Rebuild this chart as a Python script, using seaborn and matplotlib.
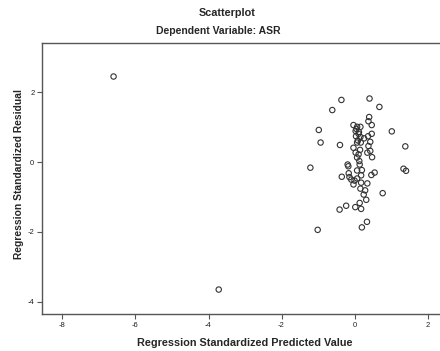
import matplotlib
matplotlib.use("Agg")
import matplotlib.pyplot as plt
import seaborn as sns
import pandas as pd

# Standardized predicted values (x) and standardized residuals (y)
predicted = [
    -6.60, -3.72,
    -0.36, 0.41, 0.68, -0.61, 0.40, 0.38, 0.47, -0.03, 0.07, 0.16,
    -0.98, 1.02, 0.03, 0.11, 0.47, 0.04, 0.16, 0.37, 0.26, -0.93,
    -0.40, 0.07, 0.17, 0.43, 0.38, 1.39, -0.03, 0.03, 0.11, 0.35,
    0.43, 0.48, 0.07, 0.13, 0.14, -1.21, -0.19, -0.17, 1.34, 1.41,
    -0.35, 0.07, 0.20, 0.55, 0.46, -0.16, -0.14, 0.18, -0.09, 0.00,
    0.07, 0.18, -0.03, 0.35, 0.77, 0.16, 0.29, 0.25, 0.32, 0.14,
    -0.23, -0.41, 0.02, 0.18, -1.01, 0.20, 0.34,
    0.05, 0.12, 0.09, 0.15,
]
residual = [
    2.45, -3.65,
    1.78, 1.82, 1.58, 1.49, 1.29, 1.17, 1.06, 1.06, 1.01, 1.01,
    0.92, 0.88, 0.89, 0.81, 0.81, 0.74, 0.72, 0.74, 0.68, 0.56,
    0.49, 0.56, 0.56, 0.58, 0.46, 0.45, 0.41, 0.27, 0.22, 0.27,
    0.32, 0.14, 0.13, 0.03, -0.07, -0.16, -0.07, -0.12, -0.19, -0.25,
    -0.42, -0.24, -0.23, -0.30, -0.37, -0.32, -0.43, -0.38, -0.50, -0.53,
    -0.47, -0.59, -0.64, -0.61, -0.89, -0.76, -0.81, -0.93, -1.08, -1.17,
    -1.25, -1.36, -1.29, -1.34, -1.94, -1.87, -1.71,
    0.95, 0.86, 0.62, 0.35,
]

x_ticks = [-8, -6, -4, -2, 0, 2]
y_ticks = [-4, -2, 0, 2]

df = pd.DataFrame({"Predicted": predicted, "Residual": residual})

sns.set_style("ticks")
plt.rcParams["font.family"] = ["Liberation Sans", "DejaVu Sans"]

fig = plt.figure(figsize=(4.40, 3.51), dpi=100)
W, H = 440, 351
left, right, top, bottom = 42, 440, 43, 314
ax = fig.add_axes([left / W, 1 - bottom / H, (right - left) / W, (bottom - top) / H])

sns.scatterplot(
    data=df, x="Predicted", y="Residual", ax=ax,
    marker="o", s=15, facecolor="none", edgecolor="#333333", linewidth=0.8,
)

ax.set_xlim(-8.56, 2.34)
ax.set_ylim(-4.35, 3.41)
ax.set_xticks(x_ticks)
ax.set_yticks(y_ticks)
ax.set_xticklabels([str(v) for v in x_ticks])
ax.set_yticklabels([str(v) for v in y_ticks])
ax.tick_params(axis="both", length=3.5, width=0.8, color="#555555",
               labelsize=5.5, labelcolor="#222222", pad=2)

for side in ("left", "bottom", "top"):
    ax.spines[side].set_color("#555555")
    ax.spines[side].set_linewidth(1.0)
ax.spines["right"].set_visible(False)

ax.set_xlabel("Regression Standardized Predicted Value", fontsize=7.8,
              fontweight="bold")
ax.set_ylabel("Regression Standardized Residual", fontsize=7.4,
              fontweight="bold")
ax.xaxis.set_label_coords(0.51, -0.088)
ax.yaxis.set_label_coords(-0.046, 0.518)

fig.text(227 / W, 1 - 13 / H, "Scatterplot",
         ha="center", va="center", fontsize=7.8, fontweight="bold")
fig.text(218 / W, 1 - 31 / H, "Dependent Variable: ASR",
         ha="center", va="center", fontsize=7.5, fontweight="bold")

fig.savefig("out.png", dpi=100, facecolor="white")
